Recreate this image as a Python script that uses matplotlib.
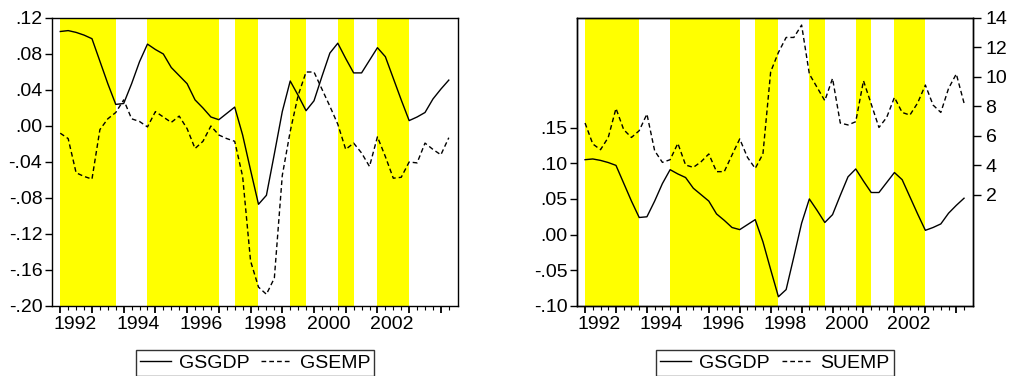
import numpy as np
import matplotlib
matplotlib.use("Agg")
from matplotlib import pyplot as plt
from matplotlib.transforms import ScaledTranslation

plt.rcParams["font.family"] = ["Liberation Sans", "DejaVu Sans"]

# quarterly data, 1992Q1 onwards
START_YEAR = 1992

gsgdp = [0.105, 0.106, 0.104, 0.101, 0.097, 0.072, 0.047, 0.024, 0.025, 0.047,
         0.0715, 0.091, 0.085, 0.080, 0.065, 0.056, 0.047, 0.029, 0.020, 0.010,
         0.007, 0.014, 0.021, -0.010, -0.049, -0.087, -0.077, -0.031, 0.016, 0.050,
         0.034, 0.017, 0.028, 0.055, 0.081, 0.092, 0.075, 0.059, 0.059, 0.073,
         0.087, 0.077, 0.053, 0.029, 0.006, 0.010, 0.015, 0.030, 0.041, 0.051]

gsemp = [-0.008, -0.014, -0.052, -0.056, -0.059, -0.004, 0.008, 0.015, 0.029, 0.008,
         0.005, -0.001, 0.016, 0.010, 0.004, 0.011, -0.003, -0.025, -0.017, 0.000,
         -0.010, -0.014, -0.017, -0.056, -0.150, -0.179, -0.187, -0.169, -0.055, -0.006,
         0.034, 0.060, 0.060, 0.041, 0.022, 0.002, -0.026, -0.019, -0.030, -0.045,
         -0.012, -0.034, -0.058, -0.057, -0.040, -0.041, -0.019, -0.026, -0.032, -0.013]

suemp = [6.87, 5.45, 5.06, 5.89, 7.86, 6.42, 5.89, 6.35, 7.48, 4.99,
         4.20, 4.38, 5.49, 4.02, 3.86, 4.24, 4.77, 3.57, 3.57, 4.70,
         5.79, 4.54, 3.79, 4.77, 10.35, 11.66, 12.68, 12.68, 13.52, 10.20,
         9.29, 8.39, 9.90, 6.87, 6.74, 6.96, 9.74, 8.16, 6.57, 7.25,
         8.61, 7.59, 7.41, 8.23, 9.45, 8.09, 7.59, 9.22, 10.20, 8.23]

# shaded periods (start, end) in years
shaded = [(1992.0, 1993.75), (1994.75, 1997.0), (1997.5, 1998.25),
          (1999.25, 1999.75), (2000.75, 2001.25), (2002.0, 2003.0)]

left_ticks = [0.12, 0.08, 0.04, 0.00, -0.04, -0.08, -0.12, -0.16, -0.20]
right_left_ticks = [0.15, 0.10, 0.05, 0.00, -0.05, -0.10]
right_right_ticks = [2, 4, 6, 8, 10, 12, 14]
year_labels = ["1992", "1994", "1996", "1998", "2000", "2002"]

x = START_YEAR + np.arange(len(gsgdp)) / 4.0

FS = 14
DASH = (3.4, 2.2)


def fmt(v):
    s = "%.2f" % v
    return s.replace("0.", ".", 1)


def style_xaxis(ax, fig):
    ax.set_xlim(1991.74, 2004.54)
    years = np.arange(1992, 2005)
    ax.set_xticks(years)
    ax.set_xticklabels([str(y) if str(y) in year_labels else "" for y in years],
                       fontsize=FS)
    ax.set_xticks(np.arange(1992, 2004.5, 0.25), minor=True)
    ax.tick_params(axis="x", which="major", direction="out", length=5, width=1.3, pad=2)
    ax.tick_params(axis="x", which="minor", direction="out", length=3, width=0.8)
    off = ScaledTranslation(0.145, 0, fig.dpi_scale_trans)
    for lab in ax.get_xticklabels():
        lab.set_transform(lab.get_transform() + off)


def shade(ax):
    for a, b in shaded:
        ax.axvspan(a, b, color="#FFFF00", lw=0, zorder=0)


fig = plt.figure(figsize=(10.13, 3.76), dpi=100)
W, H = 1013.0, 376.0

# left panel
ax1 = fig.add_axes([52 / W, 70 / H, 406 / W, 288 / H])
shade(ax1)
ax1.plot(x, gsgdp, color="black", lw=1.0, label="GSGDP")
ax1.plot(x, gsemp, color="black", lw=1.0, dashes=DASH, label="GSEMP")
ax1.set_ylim(-0.20, 0.12)
ax1.set_yticks(left_ticks)
ax1.set_yticklabels([fmt(v) for v in left_ticks], fontsize=FS)
ax1.tick_params(axis="y", direction="out", length=5, width=1, pad=2)
style_xaxis(ax1, fig)
ax1.legend(loc="lower center", bbox_to_anchor=(255 / W, 0.5 / H),
           bbox_transform=fig.transFigure, ncol=2, fontsize=FS, frameon=True,
           fancybox=False, edgecolor="black", handlelength=1.6, handletextpad=0.4,
           columnspacing=0.6, borderpad=0.2, borderaxespad=0)

# right panel
ax2 = fig.add_axes([577 / W, 70 / H, 396 / W, 288 / H])
shade(ax2)
l1, = ax2.plot(x, gsgdp, color="black", lw=1.0, label="GSGDP")
ax2.set_ylim(-0.10, 0.3035)
ax2.set_yticks(right_left_ticks)
ax2.set_yticklabels([fmt(v) for v in right_left_ticks], fontsize=FS)
ax2.tick_params(axis="y", direction="out", length=5, width=1, pad=2)
style_xaxis(ax2, fig)

ax3 = ax2.twinx()
l2, = ax3.plot(x, suemp, color="black", lw=1.0, dashes=DASH, label="SUEMP")
ax3.set_ylim(-5.55, 14.0)
ax3.set_yticks(right_right_ticks)
ax3.set_yticklabels([str(v) for v in right_right_ticks], fontsize=FS)
ax3.tick_params(axis="y", direction="out", length=6, width=1, pad=3)
ax3.legend([l1, l2], ["GSGDP", "SUEMP"], loc="lower center",
           bbox_to_anchor=(775 / W, 0.5 / H), bbox_transform=fig.transFigure,
           ncol=2, fontsize=FS, frameon=True, fancybox=False, edgecolor="black",
           handlelength=1.6, handletextpad=0.4, columnspacing=0.6,
           borderpad=0.2, borderaxespad=0)

for ax in (ax1, ax2, ax3):
    for sp in ax.spines.values():
        sp.set_linewidth(1.0)
        sp.set_color("black")
for lg in (ax1.get_legend(), ax3.get_legend()):
    lg.get_frame().set_linewidth(1.0)

fig.savefig("out.png", dpi=100)
